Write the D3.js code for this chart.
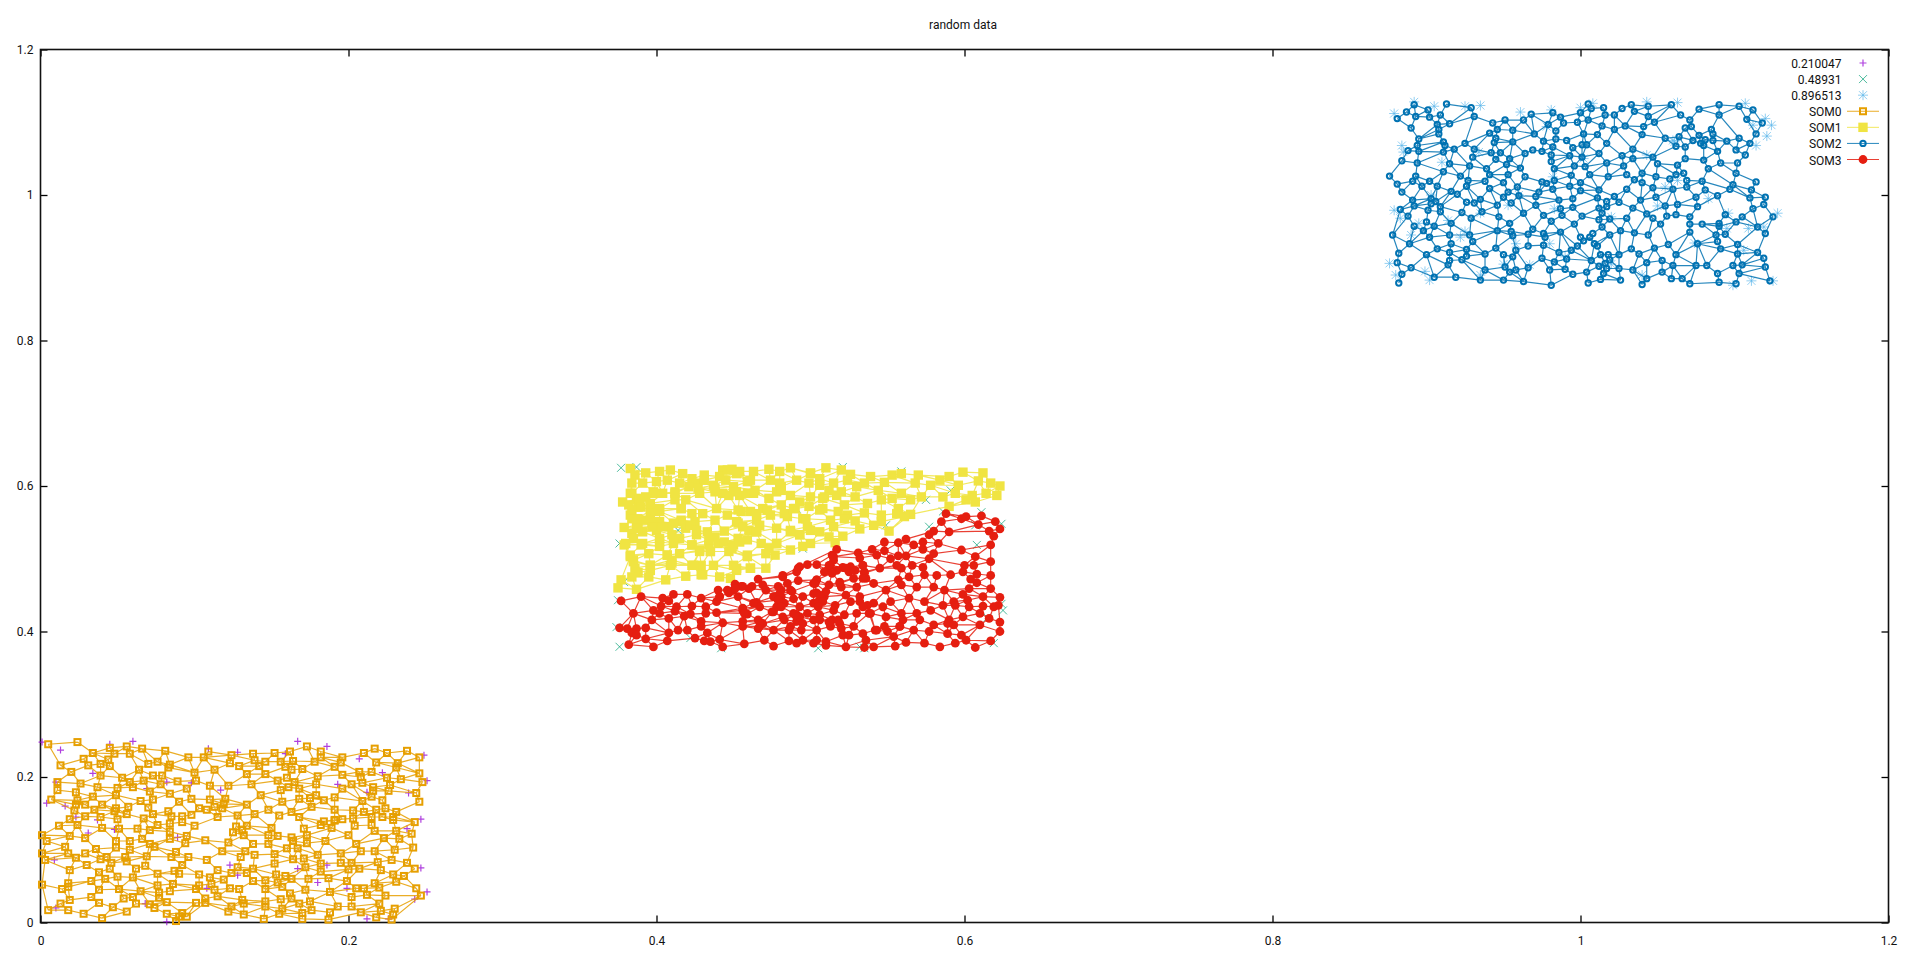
<!DOCTYPE html>
<html><head><meta charset="utf-8">
<script src="https://cdn.jsdelivr.net/npm/d3@7/dist/d3.min.js"></script>
<style>html,body{margin:0;background:#fff}svg{display:block}text{font-family:Roboto,sans-serif;fill:#111}</style>
</head><body><div id="chart"></div>
<script>
const titleText="random data";
const tickValues=[0,0.2,0.4,0.6,0.8,1,1.2];
const rawNames=["0.210047","0.48931","0.896513"];
const somNames=["SOM0","SOM1","SOM2","SOM3"];
const raw0=[[.001,.248],[.013,.237],[.060,.249],[.045,.245],[.109,.239],[.167,.249],[.186,.242],[.249,.230],[.128,.234],[.159,.232],[.207,.225],[.004,.164],[.016,.160],[.010,.193],[.117,.182],[.239,.178],[.251,.195],[.247,.142],[.238,.129],[.247,.075],[.251,.042],[.243,.032],[.212,.005],[.226,.005],[.082,.001],[.123,.079],[.128,.065],[.167,.074],[.186,.079],[.180,.055],[.199,.047],[.009,.086],[.010,.020],[.068,.026],[.108,.047],[.089,.117],[.048,.128],[.031,.123],[.037,.141],[.023,.145],[.034,.205],[.082,.193],[.069,.184],[.098,.192],[.193,.190],[.212,.179],[.222,.206]];
const raw1=[[.377,.625],[.387,.626],[.586,.565],[.577,.544],[.549,.546],[.591,.594],[.559,.620],[.376,.379],[.442,.377],[.505,.377],[.535,.377],[.624,.438],[.615,.419],[.608,.519],[.422,.391],[.575,.581],[.495,.514],[.414,.539],[.379,.468],[.607,.546],[.624,.548],[.611,.564],[.619,.384],[.374,.406],[.375,.443],[.376,.521],[.521,.626],[.532,.379],[.625,.429],[.491,.569]];
const raw2=[[.879,1.112],[.892,1.128],[.935,1.123],[.925,1.122],[.961,1.114],[.981,1.117],[1.008,1.126],[1.063,1.127],[1.107,1.126],[1.124,1.096],[1.121,1.081],[1.112,1.096],[1.114,1.068],[.884,1.068],[.885,1.059],[.910,1.045],[.934,1.059],[1.043,1.055],[1.063,1.020],[1.055,1.011],[1.083,.995],[.983,.981],[.953,.986],[.879,.979],[.883,.968],[.914,.965],[.895,.961],[1.096,.975],[1.095,.954],[1.109,.954],[1.119,.956],[1.020,.970],[.876,.906],[.899,.895],[.902,.883],[.935,.890],[.958,.933],[.980,.933],[1.074,.934],[1.106,.924],[1.111,.882],[1.099,.876],[1.040,.890],[.922,.942],[.967,.904],[.978,1.094],[1.061,1.073],[.905,1.122],[1.000,1.120],[1.043,1.128],[1.120,1.105],[.903,1.000],[.925,.950],[.890,.945],[.960,1.000],[.982,1.025],[1.060,1.075],[1.002,1.050],[1.050,.985],[.935,.975],[1.128,.975],[1.125,.882],[1.020,.905],[.990,.915],[.950,.905],[.880,.890]];
const som0=[[.005,.245],[.024,.248],[.045,.240],[.056,.242],[.066,.239],[.081,.236],[.096,.227],[.109,.235],[.124,.230],[.138,.232],[.152,.233],[.162,.235],[.173,.242],[.182,.235],[.196,.227],[.210,.233],[.217,.239],[.225,.233],[.238,.236],[.246,.227],[.034,.233],[.048,.232],[.058,.232],
[.013,.216],[.028,.225],[.031,.216],[.039,.218],[.044,.224],[.045,.215],[.070,.218],[.076,.221],[.064,.210],[.084,.217],[.083,.213],[.106,.227],[.123,.219],[.129,.215],[.139,.223],[.142,.215],[.146,.221],[.156,.221],[.159,.214],[.164,.222],[.170,.211],[.178,.221],[.182,.227],[.191,.214],[.195,.220],[.218,.220],[.232,.219],[.231,.213],
[.020,.207],[.011,.193],[.026,.191],[.039,.202],[.053,.199],[.058,.193],[.067,.195],[.073,.202],[.079,.202],[.078,.190],[.089,.194],[.100,.206],[.101,.195],[.113,.210],[.134,.204],[.146,.204],[.154,.195],[.160,.199],[.163,.210],[.165,.193],[.180,.201],[.179,.190],[.196,.203],[.207,.207],[.208,.200],[.202,.190],[.209,.192],[.215,.207],[.225,.199],[.227,.189],[.234,.197],[.246,.205],[.248,.193],[.137,.190],[.122,.188],[.110,.188],
[.011,.182],[.007,.169],[.023,.179],[.024,.168],[.037,.186],[.034,.173],[.050,.185],[.049,.175],[.060,.186],[.071,.180],[.073,.169],[.065,.167],[.084,.177],[.095,.184],[.090,.166],[.098,.170],[.110,.169],[.120,.170],[.143,.175],[.156,.182],[.161,.186],[.168,.184],[.157,.166],[.168,.170],[.175,.171],[.179,.175],[.184,.168],[.191,.172],[.196,.184],[.209,.167],[.216,.186],[.215,.173],[.222,.168],[.226,.181],[.244,.178],[.246,.166],[.216,.181],
[.022,.154],[.023,.162],[.029,.162],[.035,.155],[.040,.162],[.048,.153],[.049,.157],[.057,.159],[.056,.149],[.070,.158],[.073,.149],[.067,.143],[.083,.153],[.085,.146],[.092,.146],[.098,.148],[.103,.157],[.108,.155],[.113,.159],[.118,.157],[.119,.163],[.115,.145],[.128,.147],[.134,.162],[.139,.149],[.148,.155],[.155,.147],[.163,.152],[.168,.145],[.176,.159],[.191,.155],[.203,.154],[.203,.143],[.210,.152],[.218,.155],[.224,.157],[.231,.152],[.222,.145],[.229,.145],[.215,.145],[.196,.142],[.191,.141],[.029,.146],[.039,.145],[.050,.142],[.019,.142],
[.012,.133],[.024,.134],[.040,.130],[.051,.129],[.063,.129],[.071,.127],[.076,.134],[.084,.136],[.084,.125],[.092,.138],[.100,.133],[.125,.124],[.127,.132],[.131,.127],[.134,.133],[.150,.130],[.171,.129],[.182,.134],[.184,.139],[.189,.130],[.191,.140],[.200,.120],[.204,.133],[.215,.134],[.217,.126],[.231,.126],[.243,.138],[.241,.122],[.229,.141],[.001,.120],[.019,.119],
[.004,.112],[.029,.116],[.049,.112],[.058,.112],[.066,.115],[.084,.115],[.095,.119],[.094,.109],[.107,.113],[.122,.110],[.132,.120],[.138,.108],[.148,.120],[.148,.108],[.154,.119],[.163,.117],[.164,.112],[.173,.120],[.173,.109],[.185,.112],[.205,.108],[.223,.116],[.233,.115],[.016,.104],[.036,.101],[.049,.103],[.058,.100],[.071,.108],[.074,.104],[.118,.098],[.133,.098],[.160,.102],[.167,.102],[.208,.098],[.217,.098],[.230,.100],[.242,.103],
[.001,.095],[.003,.086],[.018,.095],[.023,.089],[.029,.095],[.039,.087],[.043,.090],[.055,.090],[.056,.084],[.069,.091],[.085,.090],[.088,.097],[.096,.090],[.108,.086],[.130,.090],[.139,.093],[.152,.094],[.152,.081],[.164,.087],[.171,.088],[.180,.093],[.182,.081],[.195,.095],[.195,.082],[.202,.082],[.219,.083],[.228,.086],[.238,.082],[.030,.079],[.046,.082],[.045,.074],[.062,.074],[.068,.078],[.092,.079],[.128,.076],[.138,.074],[.172,.076],[.019,.072],[.207,.074],[.243,.074],[.221,.072],[.200,.073],
[.038,.069],[.050,.063],[.042,.060],[.033,.057],[.060,.062],[.076,.067],[.087,.071],[.090,.067],[.103,.066],[.110,.062],[.115,.072],[.119,.059],[.124,.068],[.134,.068],[.138,.057],[.146,.058],[.153,.066],[.159,.064],[.154,.055],[.163,.060],[.174,.060],[.182,.070],[.187,.061],[.199,.057],[.229,.066],[.236,.064],[.231,.056],[.217,.054],[.001,.052],[.018,.054],[.086,.053],[.076,.051],[.111,.053],[.103,.051],
[.014,.046],[.018,.049],[.019,.031],[.038,.045],[.051,.046],[.065,.043],[.077,.041],[.084,.043],[.101,.046],[.113,.045],[.123,.047],[.129,.046],[.146,.046],[.157,.049],[.172,.045],[.188,.042],[.205,.047],[.210,.047],[.220,.048],[.212,.038],[.224,.037],[.244,.047],[.247,.037],[.202,.035],[.033,.035],[.054,.033],[.060,.035],[.077,.034],[.115,.036],[.131,.031],[.146,.029],[.156,.032],[.162,.040],[.163,.033],[.175,.029],[.101,.027],[.107,.033],[.082,.028],[.038,.027],[.062,.026],
[.013,.026],[.005,.017],[.018,.017],[.028,.012],[.040,.006],[.047,.021],[.056,.015],[.071,.025],[.074,.020],[.082,.012],[.088,.002],[.090,.008],[.092,.013],[.095,.008],[.107,.027],[.122,.015],[.124,.022],[.132,.011],[.132,.026],[.145,.005],[.146,.022],[.157,.019],[.155,.012],[.168,.026],[.170,.013],[.170,.005],[.176,.017],[.187,.004],[.188,.014],[.193,.022],[.202,.022],[.208,.014],[.218,.007],[.220,.026],[.221,.016],[.230,.019],[.229,.011],[.228,.004]];
const som1=[[.383,.624],[.386,.615],[.393,.618],[.402,.620],[.409,.622],[.417,.617],[.423,.610],[.431,.615],[.443,.622],[.449,.623],[.454,.620],[.463,.620],[.473,.623],[.480,.620],[.487,.625],[.500,.618],[.510,.625],[.520,.622],[.526,.616],[.539,.613],[.553,.615],[.559,.617],[.570,.615],[.590,.613],[.599,.619],[.612,.618],[.584,.608],[.596,.601],[.609,.607],[.617,.604],[.623,.600],
[.384,.604],[.391,.604],[.400,.606],[.407,.608],[.415,.604],[.426,.604],[.437,.601],[.445,.608],[.450,.599],[.459,.606],[.474,.608],[.481,.599],[.491,.608],[.499,.604],[.506,.610],[.515,.604],[.524,.608],[.530,.599],[.535,.604],[.548,.605],[.568,.604],[.578,.601],[.594,.590],[.614,.590],[.621,.587],[.605,.587],[.544,.594],[.520,.592],[.512,.594],
[.384,.590],[.378,.578],[.387,.581],[.393,.585],[.398,.592],[.404,.590],[.412,.592],[.419,.581],[.428,.590],[.438,.592],[.447,.587],[.454,.587],[.463,.590],[.473,.583],[.478,.592],[.487,.587],[.493,.578],[.500,.585],[.508,.583],[.517,.587],[.529,.585],[.546,.581],[.553,.583],[.559,.590],[.565,.581],[.572,.585],[.586,.585],[.601,.581],[.607,.578],[.590,.572],[.537,.576],[.522,.574],[.481,.574],[.382,.574],
[.388,.571],[.396,.567],[.383,.560],[.402,.565],[.416,.569],[.439,.569],[.446,.560],[.430,.562],[.423,.562],[.453,.567],[.461,.565],[.469,.569],[.474,.560],[.490,.569],[.499,.572],[.508,.569],[.518,.565],[.524,.560],[.535,.563],[.546,.560],[.556,.562],[.565,.561],[.557,.569],[.388,.555],[.396,.555],[.402,.551],[.416,.553],[.425,.551],[.438,.553],[.452,.551],[.465,.553],[.485,.558],[.495,.555],[.513,.553],[.522,.555],[.529,.552],[.546,.551],[.561,.558],
[.379,.543],[.387,.546],[.391,.537],[.408,.544],[.400,.539],[.419,.542],[.433,.537],[.444,.538],[.460,.539],[.467,.546],[.478,.542],[.487,.539],[.498,.544],[.506,.537],[.515,.544],[.532,.541],[.541,.546],[.551,.538],[.384,.535],[.410,.533],[.426,.533],[.438,.530],[.453,.528],[.465,.537],[.493,.533],[.512,.530],[.521,.531],[.402,.528],[.415,.528],
[.379,.519],[.390,.519],[.402,.517],[.423,.519],[.434,.519],[.440,.521],[.450,.519],[.459,.526],[.468,.521],[.478,.521],[.487,.512],[.495,.517],[.500,.521],[.516,.522],[.383,.505],[.395,.507],[.407,.505],[.415,.507],[.428,.510],[.435,.510],[.447,.510],[.459,.505],[.471,.507],[.477,.505],[.410,.498],[.385,.496],
[.396,.491],[.409,.491],[.423,.491],[.429,.491],[.437,.491],[.450,.491],[.461,.487],[.471,.487],[.386,.487],[.388,.481],[.396,.484],[.384,.475],[.395,.475],[.419,.476],[.429,.478],[.441,.475],[.452,.484],[.448,.473],[.406,.471],[.377,.471],[.375,.460],[.387,.458],
[.383,.590],[.389,.583],[.398,.590],[.396,.576],[.402,.569],[.384,.567],[.390,.571],[.384,.555],[.393,.553],[.412,.581],[.412,.590],[.421,.599],[.431,.608],[.441,.613],[.446,.622],[.452,.617],[.443,.590],[.452,.592],[.461,.608],[.464,.594],[.459,.590],[.438,.597],[.427,.597],[.416,.569],[.416,.551],[.422,.546],[.426,.539],[.411,.549],[.404,.544],[.397,.544],[.388,.542],[.385,.528],[.380,.521],[.391,.521],[.402,.523],[.411,.521],[.423,.519],[.434,.526],[.428,.512],[.435,.510],[.444,.523],[.449,.514],[.454,.523],[.453,.549],[.456,.544],[.465,.562],[.472,.567],[.465,.537],[.455,.565],[.483,.562],[.489,.569],[.497,.555],[.500,.539],[.487,.537],[.493,.533],[.480,.604],[.481,.594],[.500,.617],[.506,.601],[.509,.585],[.506,.567],[.383,.503],[.385,.498],[.407,.505],[.410,.494],[.424,.491],[.430,.478],[.452,.487],[.461,.487],[.459,.503],[.473,.514],[.478,.521],[.396,.491]];
const som2=[[.887,1.114],[.881,1.105],[.892,1.124],[.893,1.108],[.901,1.117],[.902,1.107],[.909,1.110],[.913,1.125],[.929,1.120],[.931,1.108],[.943,1.099],[.951,1.103],[.963,1.103],[.968,1.111],[.982,1.113],[.987,1.107],[1.000,1.113],[1.005,1.125],[1.007,1.119],[1.015,1.120],[1.016,1.110],[1.022,1.110],[1.027,1.119],[1.033,1.124],[1.035,1.115],[1.044,1.122],[1.044,1.108],[1.059,1.124],[1.065,1.110],[1.077,1.118],[1.090,1.124],[1.090,1.110],[1.103,1.122],[1.112,1.117],[1.108,1.104],[1.118,1.099],[1.071,1.103],
[.890,1.092],[.907,1.097],[.908,1.090],[.915,1.098],[.908,1.084],[.895,1.077],[.941,1.085],[.946,1.090],[.956,1.089],[.970,1.084],[.979,1.097],[.984,1.088],[.989,1.099],[.998,1.100],[1.005,1.103],[1.002,1.084],[1.011,1.083],[1.022,1.090],[1.029,1.095],[1.014,1.095],[1.041,1.094],[1.048,1.100],[1.040,1.083],[1.055,1.078],[1.064,1.080],[1.068,1.092],[1.072,1.094],[1.077,1.082],[1.085,1.090],[1.086,1.084],[1.103,1.078],[1.114,1.084],[1.081,1.076],[1.086,1.075],[1.095,1.074],[.945,1.078],[.984,1.077],[.991,1.075],[1.073,1.075],
[.894,1.068],[.911,1.073],[.912,1.068],[.925,1.071],[.888,1.061],[.895,1.060],[.911,1.059],[.918,1.063],[.931,1.063],[.944,1.072],[.956,1.073],[.942,1.058],[.948,1.058],[.976,1.074],[.964,1.057],[.969,1.062],[.975,1.060],[.982,1.066],[.995,1.065],[1.001,1.069],[1.004,1.069],[1.017,1.071],[1.012,1.057],[1.034,1.063],[1.062,1.067],[1.068,1.066],[1.078,1.071],[1.080,1.068],[1.089,1.060],[1.101,1.062],[1.110,1.071],[1.107,1.055],
[.884,1.047],[.894,1.044],[.915,1.043],[.930,1.052],[.928,1.040],[.911,1.032],[.945,1.049],[.954,1.050],[.952,1.042],[.939,1.036],[.961,1.037],[.981,1.055],[.981,1.046],[.983,1.036],[.993,1.054],[1.001,1.052],[.996,1.040],[1.003,1.039],[1.017,1.044],[1.027,1.054],[1.028,1.040],[1.034,1.050],[1.047,1.052],[1.050,1.043],[1.040,1.030],[1.063,1.041],[1.068,1.050],[1.080,1.048],[1.091,1.044],[1.102,1.044],[1.083,1.036],[1.101,1.030],[1.067,1.030],
[.876,1.026],[.881,1.015],[.891,1.019],[.893,1.026],[.902,1.019],[.897,1.012],[.907,1.012],[.922,1.026],[.927,1.020],[.926,1.012],[.938,1.019],[.941,1.028],[.941,1.009],[.953,1.028],[.950,1.017],[.964,1.025],[.975,1.018],[.978,1.016],[.983,1.020],[.994,1.027],[.993,1.012],[.982,1.008],[1.000,1.017],[1.006,1.028],[1.018,1.025],[1.030,1.028],[1.035,1.021],[1.040,1.017],[1.049,1.025],[1.047,1.010],[1.030,1.008],[1.058,1.022],[1.062,1.028],[1.069,1.020],[1.069,1.011],[1.079,1.019],[1.081,1.007],[1.097,1.008],[1.099,1.014],[1.114,1.018],[1.012,1.007],[1.060,1.008],[1.111,1.007],[.959,1.011],
[.884,1.004],[.916,1.005],[.920,1.001],[.891,.993],[.903,.995],[.906,.991],[.892,.985],[.903,.988],[.926,.990],[.931,.989],[.935,.994],[.946,.986],[.950,.997],[.953,1.004],[.955,.989],[.960,.999],[.971,.998],[.973,1.004],[.971,.986],[.986,.993],[.995,.995],[1.000,1.006],[1.011,.996],[1.017,.991],[1.017,.984],[1.022,.998],[1.025,.990],[1.039,.993],[1.049,.997],[1.055,.985],[1.063,.987],[1.076,.984],[1.075,.997],[1.089,.999],[1.110,.996],[1.120,.997],[1.119,.987],
[.883,.980],[.888,.971],[.901,.979],[.909,.984],[.909,.977],[.923,.976],[.900,.963],[.916,.961],[.929,.968],[.936,.977],[.947,.970],[.963,.975],[.976,.972],[.988,.972],[.987,.981],[.995,.983],[1.001,.971],[1.012,.982],[1.014,.975],[1.012,.966],[1.019,.967],[1.030,.968],[1.034,.982],[1.043,.974],[1.047,.968],[1.056,.971],[1.062,.973],[1.071,.970],[1.094,.973],[1.105,.970],[1.112,.981],[1.125,.970],[1.101,.963],[.981,.964],[.905,.957],
[.892,.957],[.898,.951],[.878,.945],[.902,.942],[.915,.945],[.928,.945],[.946,.951],[.954,.961],[.955,.950],[.956,.944],[.969,.953],[.966,.946],[.976,.947],[.977,.942],[.987,.949],[.996,.960],[1.014,.956],[1.019,.945],[1.026,.951],[1.035,.948],[1.044,.945],[1.052,.960],[1.071,.960],[1.071,.949],[1.079,.960],[1.090,.961],[1.090,.957],[1.088,.945],[1.094,.946],[1.115,.956],[1.120,.947],[1.000,.942],[1.006,.942],[1.008,.947],
[.889,.933],[.882,.920],[.900,.918],[.907,.926],[.916,.933],[.915,.921],[.926,.925],[.930,.936],[.945,.927],[.938,.919],[.950,.918],[.958,.924],[.966,.930],[.976,.931],[.986,.921],[.994,.924],[.998,.930],[1.002,.937],[1.009,.933],[1.011,.930],[1.033,.926],[1.048,.927],[1.057,.932],[1.076,.933],[1.089,.936],[1.091,.926],[1.102,.932],[1.115,.921],[1.102,.919],[1.013,.918],[1.018,.918],[1.038,.919],[1.025,.918],[1.062,.918],
[.881,.907],[.890,.900],[.914,.904],[.915,.910],[.923,.911],[.926,.916],[.938,.897],[.951,.901],[.956,.915],[.958,.897],[.954,.894],[.966,.900],[.975,.913],[.983,.908],[.980,.897],[.991,.912],[.990,.898],[1.007,.910],[1.004,.894],[1.012,.902],[1.016,.906],[1.019,.911],[1.017,.899],[1.025,.899],[1.034,.897],[1.043,.907],[1.053,.910],[1.053,.894],[1.060,.903],[1.075,.903],[1.082,.903],[1.099,.903],[1.105,.904],[1.119,.913],[1.120,.901],[1.089,.892],[1.103,.892],
[.884,.891],[.882,.879],[.905,.887],[.919,.887],[.935,.883],[.950,.883],[.963,.881],[.981,.876],[.995,.891],[1.005,.879],[1.013,.884],[1.015,.892],[1.026,.883],[1.040,.877],[1.043,.885],[1.059,.885],[1.066,.885],[1.071,.878],[1.090,.880],[1.101,.878],[1.123,.882]];
const som3=[[.588,.562],[.598,.555],[.601,.558],[.611,.559],[.585,.551],[.620,.551],[.609,.547],[.623,.541],[.616,.538],[.590,.537],[.580,.538],[.577,.533],[.619,.531],[.562,.527],[.548,.523],[.573,.523],[.583,.521],[.617,.519],[.557,.522],[.517,.513],[.514,.505],[.540,.513],[.548,.511],[.567,.519],[.573,.513],[.598,.512],[.580,.507],[.531,.508],[.543,.505],[.557,.504],[.562,.504],[.607,.503],[.515,.498],[.532,.501],[.552,.500],[.577,.500],[.617,.496],[.513,.491],[.493,.489],[.498,.492],[.504,.492],[.534,.491],[.545,.487],[.556,.491],[.559,.487],[.566,.491],[.573,.488],[.600,.491],[.606,.491],[.521,.488],[.526,.489],[.491,.482],[.511,.484],[.517,.484],[.525,.482],[.535,.482],[.574,.478],[.582,.477],[.591,.478],[.599,.482],[.608,.479],[.617,.477],[.482,.477],[.466,.472],[.504,.471],[.502,.466],[.519,.468],[.528,.473],[.536,.473],[.557,.471],[.564,.475],[.604,.472],[.608,.467],[.492,.470],[.469,.464],[.485,.466],[.451,.465],[.462,.462],[.455,.462],[.450,.457],[.440,.457],[.447,.453],[.520,.461],[.530,.461],[.541,.466],[.549,.457],[.587,.457],[.603,.459],[.617,.459],[.599,.451],[.612,.448],[.623,.447],[.580,.461],[.569,.461],[.559,.464],
[.377,.442],[.390,.448],[.411,.451],[.420,.451],[.429,.446],[.404,.446],[.408,.442],[.441,.448],[.439,.441],[.453,.448],[.460,.459],[.471,.457],[.479,.462],[.476,.448],[.481,.448],[.488,.455],[.495,.448],[.504,.453],[.509,.448],[.523,.450],[.532,.448],[.541,.439],[.552,.441],[.564,.446],[.574,.441],[.586,.436],[.593,.441],[.602,.443],[.622,.436],[.619,.434],[.612,.435],[.403,.435],[.413,.434],[.398,.429],[.423,.435],[.432,.434],[.456,.429],[.465,.440],[.493,.434],[.502,.439],[.516,.436],[.526,.441],[.537,.436],[.594,.436],[.603,.434],
[.385,.425],[.402,.425],[.412,.428],[.418,.421],[.408,.418],[.397,.416],[.422,.424],[.432,.425],[.439,.426],[.429,.414],[.459,.424],[.466,.416],[.476,.427],[.469,.411],[.456,.414],[.443,.412],[.482,.420],[.491,.423],[.498,.425],[.506,.423],[.514,.416],[.522,.423],[.530,.425],[.538,.425],[.547,.434],[.549,.420],[.559,.425],[.569,.425],[.578,.429],[.590,.416],[.599,.420],[.610,.425],[.616,.418],[.623,.413],[.571,.416],[.560,.416],[.519,.411],[.502,.416],[.491,.414],[.580,.409],[.589,.411],
[.376,.405],[.381,.404],[.387,.404],[.393,.405],[.384,.398],[.387,.395],[.393,.390],[.408,.398],[.414,.402],[.420,.402],[.429,.407],[.433,.398],[.407,.387],[.382,.382],[.398,.379],[.425,.391],[.431,.387],[.435,.386],[.441,.389],[.443,.379],[.457,.383],[.470,.388],[.476,.380],[.486,.387],[.491,.384],[.495,.388],[.502,.384],[.510,.381],[.523,.379],[.535,.378],[.541,.379],[.554,.393],[.555,.380],[.562,.385],[.574,.384],[.584,.379],[.594,.384],[.607,.378],[.617,.387],[.623,.400],[.601,.388],[.589,.397],[.598,.395],[.577,.400],[.567,.402],[.558,.407],[.550,.400],[.542,.402],[.534,.397],[.528,.407],[.521,.395],[.513,.407],[.504,.402],[.494,.402],[.487,.407],[.476,.402],[.467,.407],[.456,.407],[.610,.409],[.593,.409],
[.478,.434],[.483,.439],[.481,.457],[.489,.425],[.507,.448],[.510,.455],[.505,.441],
[.515,.503],[.512,.491],[.509,.482],[.514,.480],[.523,.487],[.529,.484],[.534,.491],[.535,.480],[.534,.473],[.504,.471],[.503,.466],[.492,.487],[.482,.475],[.480,.452],[.479,.443],[.481,.434],[.483,.416],[.487,.457],[.489,.445],[.493,.420],[.490,.423],[.502,.452],[.506,.450],[.508,.441],[.505,.434],[.512,.464],[.519,.466],[.456,.462],[.451,.459],[.446,.457],[.441,.448],[.456,.432],[.457,.425],[.467,.413],[.466,.404],[.486,.402],[.495,.411],[.506,.416],[.512,.413],[.518,.416],[.520,.404],[.515,.429],[.532,.441],[.534,.434],[.539,.425],[.543,.402],[.548,.407],[.558,.407],[.467,.434],[.475,.427],[.463,.439],[.504,.388],[.510,.386],[.525,.395],[.536,.388]];

const W=1908,H=954,L=40.5,R=1888.5,T=49.5,B=922.5;
const x=d3.scaleLinear().domain([0,1.2]).range([L,R]);
const y=d3.scaleLinear().domain([0,1.2]).range([B,T]);
const svg=d3.select("#chart").append("svg").attr("width",W).attr("height",H);
svg.append("text").attr("x",963).attr("y",29).attr("text-anchor","middle").attr("font-size",12).text(titleText);

const fmt=d=>String(d);
const styleAxis=(g,labels)=>{g.select(".domain").remove();
  g.selectAll("line").attr("stroke","#000").attr("stroke-width",1.3);
  g.selectAll("text").attr("font-size",12).style("display",labels?null:"none");};
const mk=(a,s)=>a(s).tickValues(tickValues).tickFormat(fmt).tickSizeOuter(0);
svg.append("g").attr("transform",`translate(0,${B})`).call(mk(d3.axisTop,x).tickSize(7)).call(g=>styleAxis(g,false));
svg.append("g").attr("transform",`translate(0,${T})`).call(mk(d3.axisBottom,x).tickSize(7)).call(g=>styleAxis(g,false));
svg.append("g").attr("transform",`translate(${L},0)`).call(mk(d3.axisRight,y).tickSize(7)).call(g=>styleAxis(g,false));
svg.append("g").attr("transform",`translate(${R},0)`).call(mk(d3.axisLeft,y).tickSize(7)).call(g=>styleAxis(g,false));
const xl=svg.append("g").attr("transform",`translate(0,${B})`).call(mk(d3.axisBottom,x).tickSize(0).tickPadding(14));
xl.select(".domain").remove(); xl.selectAll("text").attr("font-size",12).attr("fill","#111");
const yl=svg.append("g").attr("transform",`translate(${L},0)`).call(mk(d3.axisLeft,y).tickSize(0).tickPadding(7));
yl.select(".domain").remove(); yl.selectAll("text").attr("font-size",12).attr("fill","#111");
svg.append("rect").attr("x",L).attr("y",T).attr("width",R-L).attr("height",B-T).attr("fill","none").attr("stroke","#111").attr("stroke-width",1.6);

const colors={raw0:"#9400d3",raw1:"#009e73",raw2:"#56b4e9",som0:"#e69f00",som1:"#f0e442",som2:"#0072b2",som3:"#e51e10"};
const plus=(g,c)=>g.append("path").attr("d","M-3.5,0H3.5M0,-3.5V3.5").attr("stroke",c).attr("fill","none").attr("stroke-width",1.2).attr("stroke-opacity",.75);
const cross=(g,c)=>g.append("path").attr("d","M-4,-4L4,4M-4,4L4,-4").attr("stroke",c).attr("fill","none").attr("stroke-width",1).attr("stroke-opacity",.7);
const star=(g,c)=>g.append("path").attr("d","M-5,0H5M0,-5V5M-4,-4L4,4M-4,4L4,-4").attr("stroke",c).attr("fill","none").attr("stroke-width",1).attr("stroke-opacity",.65);
const sqOpen=(g,c)=>g.append("rect").attr("x",-3).attr("y",-3).attr("width",6).attr("height",6).attr("fill","none").attr("stroke",c).attr("stroke-width",2);
const sqFill=(g,c)=>g.append("rect").attr("x",-4.7).attr("y",-4.7).attr("width",9.4).attr("height",9.4).attr("fill",c);
const cirOpen=(g,c)=>g.append("circle").attr("r",2.7).attr("fill","none").attr("stroke",c).attr("stroke-width",2);
const cirFill=(g,c)=>g.append("circle").attr("r",4.4).attr("fill",c);

function drawRaw(data,color,marker){
  const g=svg.append("g");
  g.selectAll("g").data(data).join("g").attr("transform",d=>`translate(${x(d[0])},${y(d[1])})`).each(function(){marker(d3.select(this),color);});
}
// mesh between neighbouring nodes: a Delaunay triangulation thinned of its longest diagonals,
// measured with the vertical distance stretched so the mesh keeps the rows seen in each cluster
function edges(data,stretch,maxLen,k){
  const pts=data.map(d=>[x(d[0]),y(d[1])]);
  const warped=pts.map(p=>[p[0],p[1]*stretch]);
  const del=d3.Delaunay.from(warped);
  const dist=(a,b)=>Math.hypot(a[0]-b[0],a[1]-b[1]);
  const out=[];
  const t=del.triangles,h=del.halfedges;
  for(let e=0;e<t.length;e++){
    const o=h[e];
    if(o>=0&&e>o)continue;
    const i=t[e],j=t[e%3===2?e-2:e+1];
    if(dist(pts[i],pts[j])>maxLen)continue;
    const l=dist(warped[i],warped[j]);
    let keep=true;
    for(const n of del.neighbors(i)){
      if(n===j)continue;
      if(Math.max(dist(warped[n],warped[i]),dist(warped[n],warped[j]))<k*l){keep=false;break;}
    }
    if(keep)out.push([pts[i],pts[j]]);
  }
  return out;
}
function drawSom(data,color,marker,stretch,maxLen,k){
  const g=svg.append("g");
  g.append("path").attr("fill","none").attr("stroke",color).attr("stroke-width",1.2).attr("stroke-opacity",.85)
   .attr("d",edges(data,stretch,maxLen,k).map(e=>d3.line()(e)).join(""));
  g.selectAll("g").data(data).join("g").attr("transform",d=>`translate(${x(d[0])},${y(d[1])})`).each(function(){marker(d3.select(this),color);});
}
drawRaw(raw0,colors.raw0,plus);
drawRaw(raw1,colors.raw1,cross);
drawRaw(raw2,colors.raw2,star);
drawSom(som0,colors.som0,sqOpen,1.8,42,.82);
drawSom(som1,colors.som1,sqFill,2,42,.75);
drawSom(som2,colors.som2,cirOpen,1.1,32,.84);
drawSom(som3,colors.som3,cirFill,1.8,42,.78);

const legendRows=[
 {name:rawNames[0],c:colors.raw0,m:plus,line:false},
 {name:rawNames[1],c:colors.raw1,m:cross,line:false},
 {name:rawNames[2],c:colors.raw2,m:star,line:false},
 {name:somNames[0],c:colors.som0,m:sqOpen,line:true},
 {name:somNames[1],c:colors.som1,m:sqFill,line:true},
 {name:somNames[2],c:colors.som2,m:cirOpen,line:true},
 {name:somNames[3],c:colors.som3,m:cirFill,line:true}];
const leg=svg.append("g");
const rowY=d3.scalePoint().domain(d3.range(legendRows.length)).range([63,159.5]);
legendRows.forEach((r,i)=>{
  const yy=rowY(i);
  leg.append("text").attr("x",1841.5).attr("y",yy+5).attr("text-anchor","end").attr("font-size",12).text(r.name);
  if(r.line)leg.append("line").attr("x1",1847).attr("x2",1879).attr("y1",yy).attr("y2",yy).attr("stroke",r.c).attr("stroke-width",1).attr("stroke-opacity",.85);
  const g=leg.append("g").attr("transform",`translate(1863,${yy})`);r.m(g,r.c);
});
</script></body></html>
